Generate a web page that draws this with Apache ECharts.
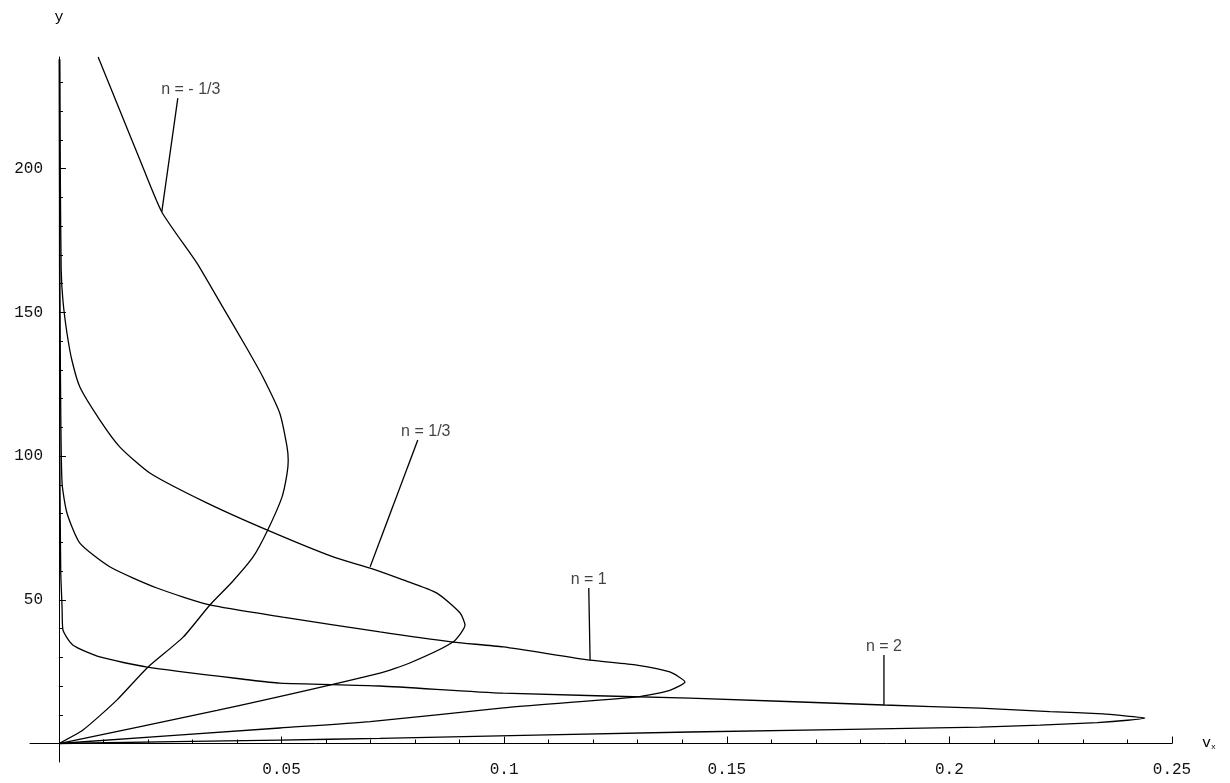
<!DOCTYPE html>
<html>
<head>
<meta charset="utf-8">
<script src="https://cdn.jsdelivr.net/npm/echarts@6/dist/echarts.min.js"></script>
<style>
  html, body { margin: 0; padding: 0; background: #fff; }
  #chart { width: 1230px; height: 783px; }
</style>
</head>
<body>
<div id="chart"></div>
<script>
// Velocity profiles v_x(y) for four values of the flow index n.
// Each profile runs from the origin out to its maximum and back toward the wall.
const curveNames = ['n = - 1/3', 'n = 1/3', 'n = 1', 'n = 2'];

const profileNegThird = [
  [0, 0], [0.0054, 4.7], [0.013, 15.1], [0.0198, 26.3], [0.0279, 37.0],
  [0.0339, 48.2], [0.0389, 56.2], [0.0436, 64.9], [0.0469, 74.3], [0.0501, 85.7],
  [0.0512, 93.5], [0.0515, 98.5], [0.0512, 103.5], [0.0496, 114.9], [0.0458, 127.5],
  [0.0422, 137.5], [0.0366, 152.3], [0.031, 167.1], [0.0231, 184.9], [0.0182, 203],
  [0.013, 222.8], [0.0088, 238.8]
];

const profileThird = [
  [0, 0], [0.0355, 11.5], [0.0721, 24.5], [0.0788, 28.0], [0.0885, 35.3],
  [0.0912, 41.2], [0.0901, 45.4], [0.0849, 52.3], [0.0773, 56.9], [0.0699, 61.0],
  [0.0616, 64.9], [0.0467, 74.3], [0.0332, 83.7], [0.0204, 94.1], [0.0137, 103.1],
  [0.0092, 112.5], [0.0047, 124], [0.0029, 133.4], [0.0018, 142.8], [0.0009, 154],
  [0.0005, 165], [0.0003, 200], [0.0002, 238]
];

const profileOne = [
  [0, 0], [0.0496, 5.4], [0.0699, 7.6], [0.0998, 12.4], [0.1298, 16.2],
  [0.1372, 18.5], [0.1406, 21.4], [0.1372, 24.9], [0.1298, 27.3], [0.1193, 29.0],
  [0.0998, 33.6], [0.0885, 35.3], [0.0721, 38.8], [0.0503, 44], [0.0339, 48.2],
  [0.022, 54.1], [0.0115, 61.4], [0.0047, 69.7], [0.0018, 80.2], [0.0007, 90.6],
  [0.0004, 117], [0.0002, 160], [0.0001, 238]
];

const profileTwo = [
  [0, 0], [0.0496, 1.2], [0.0721, 1.8], [0.1417, 4.0], [0.2069, 5.7],
  [0.2204, 6.4], [0.2332, 7.3], [0.2400, 8.1], [0.2439, 8.9], [0.2395, 9.6],
  [0.2345, 10.3], [0.2226, 11.1], [0.2069, 12.3], [0.1853, 13.4], [0.1417, 15.8],
  [0.0998, 17.5], [0.0721, 20.0], [0.0496, 21.0], [0.0429, 22.1], [0.0198, 26.6],
  [0.0092, 30.1], [0.0031, 34.3], [0.0009, 39.5], [0.0007, 47.5], [0.0004, 60],
  [0.0002, 100], [0.0001, 238]
];

// Leader lines from each name down to its curve: [label end, curve end]
const leaderNegThird = [[0.0267, 224.5], [0.0231, 184.9]];
const leaderThird = [[0.0806, 105.6], [0.0699, 61.5]];
const leaderOne = [[0.119, 54.1], [0.1193, 29.0]];
const leaderTwo = [[0.1853, 30.8], [0.1853, 13.4]];

// Axis ticks
const xMajorTicks = [0.05, 0.1, 0.15, 0.2, 0.25];
const xMinorTicks = [0.01, 0.02, 0.03, 0.04, 0.06, 0.07, 0.08, 0.09, 0.11, 0.12, 0.13, 0.14,
  0.16, 0.17, 0.18, 0.19, 0.21, 0.22, 0.23, 0.24];
const yMajorTicks = [50, 100, 150, 200];
const yMinorTicks = [10, 20, 30, 40, 60, 70, 80, 90, 110, 120, 130, 140, 160, 170, 180, 190,
  210, 220, 230];

const profiles = [profileNegThird, profileThird, profileOne, profileTwo];
const leaders = [leaderNegThird, leaderThird, leaderOne, leaderTwo];
const labelOffsets = [[13, 0], [8, 0], [0, 0], [0, 0]];

const X_MIN = -0.0065, X_MAX = 0.25, Y_MIN = -6.43, Y_MAX = 238.8;
const INK = '#000';
const monoFont = 'Liberation Mono, DejaVu Sans Mono, monospace';

const chart = echarts.init(document.getElementById('chart'), null, { renderer: 'canvas' });

const baseX = {
  type: 'value', min: X_MIN, max: X_MAX, position: 'bottom',
  splitLine: { show: false },
  axisLine: { onZero: true, lineStyle: { color: INK, width: 1 } }
};
const baseY = {
  type: 'value', min: Y_MIN, max: Y_MAX, position: 'left',
  splitLine: { show: false },
  axisLine: { onZero: true, lineStyle: { color: INK, width: 1 } }
};

const series = [];
profiles.forEach((p, i) => {
  series.push({
    type: 'line', name: curveNames[i], data: p,
    xAxisIndex: 0, yAxisIndex: 0,
    showSymbol: false, symbol: 'none', smooth: 0.2, clip: true, silent: true,
    lineStyle: { color: INK, width: 1.3 }
  });
});
leaders.forEach((l, i) => {
  series.push({
    type: 'line', data: l, xAxisIndex: 0, yAxisIndex: 0,
    showSymbol: false, symbol: 'none', silent: true,
    lineStyle: { color: INK, width: 1.3 }
  });
});
series.push({
  type: 'scatter', xAxisIndex: 0, yAxisIndex: 0, silent: true,
  symbolSize: 1, itemStyle: { color: 'rgba(0,0,0,0)' },
  data: leaders.map((l, i) => ({
    value: l[0],
    label: { offset: labelOffsets[i] }
  })),
  label: {
    show: true, position: 'top', distance: 0,
    formatter: (p) => curveNames[p.dataIndex],
    fontFamily: 'Liberation Sans, Arial, sans-serif', fontSize: 16, color: '#111'
  }
});

chart.setOption({
  animation: false,
  backgroundColor: '#fff',
  grid: {
    left: 30, right: 58, top: 57, bottom: 21,
    containLabel: false, outerBoundsMode: 'none'
  },
  xAxis: [
    Object.assign({}, baseX, {
      name: '{v|v}{s|x}', nameLocation: 'end', nameGap: 30,
      nameTextStyle: {
        rich: {
          v: { fontFamily: monoFont, fontSize: 15, color: INK },
          s: { fontFamily: monoFont, fontSize: 8, color: INK, verticalAlign: 'bottom', padding: [6, 0, 0, 0] }
        }
      },
      axisTick: { show: true, inside: true, length: 7, customValues: xMajorTicks, lineStyle: { color: INK } },
      axisLabel: {
        show: true, customValues: xMajorTicks, margin: 0,
        fontFamily: monoFont, fontSize: 16, color: '#111',
        formatter: (v) => String(v)
      }
    }),
    Object.assign({}, baseX, {
      axisLine: { show: false, onZero: true },
      axisTick: { show: true, inside: true, length: 4, customValues: xMinorTicks, lineStyle: { color: INK } },
      axisLabel: { show: false }
    })
  ],
  yAxis: [
    Object.assign({}, baseY, {
      name: 'y', nameLocation: 'end', nameGap: 32,
      nameTextStyle: { fontFamily: monoFont, fontSize: 15, color: INK, align: 'center' },
      axisTick: { show: true, inside: true, length: 7, customValues: yMajorTicks, lineStyle: { color: INK } },
      axisLabel: {
        show: true, customValues: yMajorTicks, margin: -13,
        fontFamily: monoFont, fontSize: 16, color: '#111'
      }
    }),
    Object.assign({}, baseY, {
      axisLine: { show: false, onZero: true },
      axisTick: { show: true, inside: true, length: 4, customValues: yMinorTicks, lineStyle: { color: INK } },
      axisLabel: { show: false }
    })
  ],
  series: series
});
</script>
</body>
</html>
